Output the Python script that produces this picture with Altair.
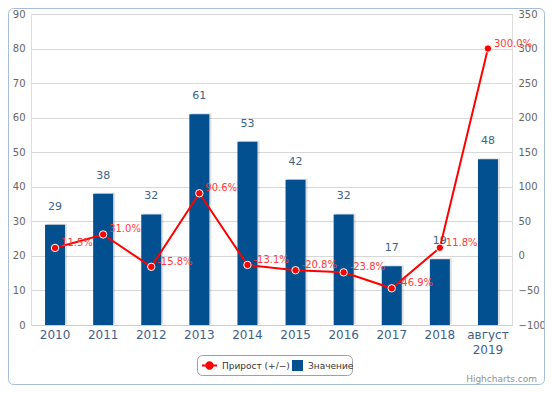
import altair as alt
import pandas as pd

years = ["2010", "2011", "2012", "2013", "2014", "2015", "2016", "2017", "2018", "август 2019"]
values = [29, 38, 32, 61, 53, 42, 32, 17, 19, 48]
growth = [11.5, 31.0, -15.8, 90.6, -13.1, -20.8, -23.8, -46.9, 11.8, 300.0]
bar_name = "Значение"
line_name = "Прирост (+/−)"

df = pd.DataFrame({"year": years, "value": values, "growth": growth})
df["glabel"] = [f"{g:.1f}%" for g in growth]
df["bar_series"] = bar_name
df["line_series"] = line_name

FONT = "DejaVu Sans"
BLUE = "#02508f"
RED = "#ff0000"

base = alt.Chart(df)

x_enc = alt.X(
    "year:N",
    sort=years,
    scale=alt.Scale(paddingInner=0, paddingOuter=0),
    axis=alt.Axis(
        title=None,
        labelAngle=0,
        labelColor="#3d5f8c",
        labelFontSize=12,
        labelPadding=4,
        ticks=False,
        domainColor="#c0d0e0",
        grid=False,
        labelExpr="split(datum.label, ' ')",
        labelLineHeight=15,
    ),
)

y_left = alt.Y(
    "value:Q",
    scale=alt.Scale(domain=[0, 90], nice=False),
    axis=alt.Axis(
        title=None,
        values=list(range(0, 91, 10)),
        domain=False,
        ticks=False,
        labelColor="#666666",
        labelFontSize=10,
        labelPadding=6,
        gridColor="#d8d8d8",
    ),
)

y_right = alt.Y(
    "growth:Q",
    scale=alt.Scale(domain=[-100, 350], nice=False),
    axis=alt.Axis(
        title=None,
        orient="right",
        values=list(range(-100, 351, 50)),
        domain=False,
        ticks=False,
        grid=False,
        labelColor="#666666",
        labelFontSize=10,
        labelPadding=6,
    ),
)

shadow = base.mark_bar(size=20, xOffset=2, yOffset=-1, color="#000000", opacity=0.12).encode(
    x=x_enc, y=y_left
)
bars = base.mark_bar(size=20).encode(
    x=x_enc,
    y=y_left,
    fill=alt.Fill(
        "bar_series:N",
        scale=alt.Scale(domain=[bar_name], range=[BLUE]),
        legend=alt.Legend(
            title=None,
            orient="none",
            legendX=260,
            legendY=345,
            symbolType="square",
            symbolSize=121,
            labelFont=FONT,
            labelFontSize=9,
            labelColor="#333333",
            labelOffset=4,
            padding=0,
        ),
    ),
)
bar_text = base.mark_text(
    dy=-18, fontSize=11, font=FONT, color="#3d6387", baseline="middle"
).encode(x=x_enc, y=y_left, text="value:Q")

left_layer = alt.layer(shadow, bars, bar_text)

line = base.mark_line(strokeWidth=2).encode(
    x=x_enc,
    y=y_right,
    stroke=alt.Stroke(
        "line_series:N",
        scale=alt.Scale(domain=[line_name], range=[RED]),
        legend=alt.Legend(
            title=None,
            orient="none",
            legendX=170,
            legendY=343,
            symbolType="M-1,0L1,0M-0.42,0A0.42,0.42 0 1,1 0.42,0A0.42,0.42 0 1,1 -0.42,0Z",
            symbolSize=225,
            symbolStrokeWidth=2,
            symbolFillColor=RED,
            labelFont=FONT,
            labelFontSize=9,
            labelColor="#333333",
            labelOffset=4,
            padding=0,
        ),
    ),
)
line_text = base.mark_text(
    dx=6, dy=-5, align="left", baseline="middle", fontSize=10, font=FONT, color="#ff3a3a"
).encode(x=x_enc, y=y_right, text="glabel:N")
points = base.mark_point(
    filled=True, size=55, fill=RED, stroke="#ffffff", strokeWidth=1, opacity=1
).encode(x=x_enc, y=y_right)

right_layer = alt.layer(line, line_text, points)

deco_data = alt.Data(values=[{"k": 1}])
border = alt.Chart(deco_data).mark_rect(
    fill="transparent", stroke="#a8bcdc", strokeWidth=1, cornerRadius=5, clip=False
).encode(
    x=alt.value(-22.5), x2=alt.value(513.5), y=alt.value(-5.5), y2=alt.value(370.5)
)
legend_box = alt.Chart(deco_data).mark_rect(
    fill="transparent", stroke="#a0a0a0", strokeWidth=1, cornerRadius=5, clip=False
).encode(
    x=alt.value(166.5), x2=alt.value(321.5), y=alt.value(341.5), y2=alt.value(361.5)
)
credit = alt.Chart(deco_data).mark_text(
    align="right", baseline="middle", fontSize=9, font=FONT, color="#909090"
).encode(x=alt.value(506), y=alt.value(365), text=alt.value("Highcharts.com"))

chart = (
    alt.layer(left_layer, right_layer, border, legend_box, credit)
    .resolve_scale(y="independent")
    .properties(
        width=481,
        height=311,
        padding={"left": 23, "top": 6, "right": 33, "bottom": 60},
        autosize=alt.AutoSizeParams(type="none"),
        background="white",
    )
    .configure_view(stroke=None)
    .configure(font=FONT)
)

chart.save("out.html", embed_options={"renderer": "svg", "actions": False})
